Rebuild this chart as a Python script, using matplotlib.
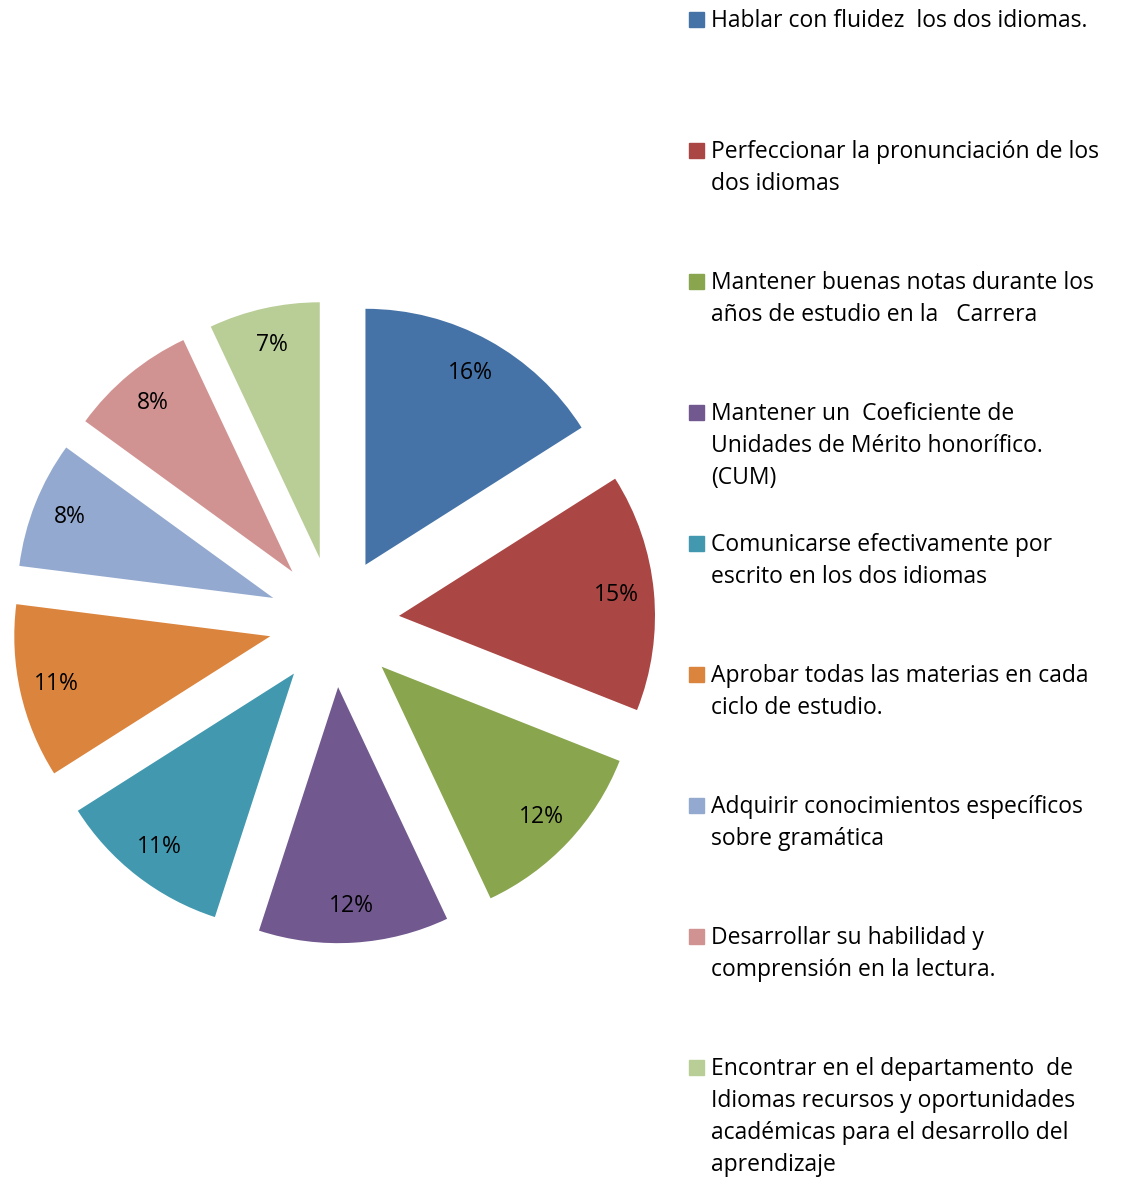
import matplotlib.pyplot as plt

# Data
categories = [
    "Hablar con fluidez  los dos idiomas.",
    "Perfeccionar la pronunciación de los\ndos idiomas",
    "Mantener buenas notas durante los\naños de estudio en la   Carrera",
    "Mantener un  Coeficiente de\nUnidades de Mérito honorífico.\n(CUM)",
    "Comunicarse efectivamente por\nescrito en los dos idiomas",
    "Aprobar todas las materias en cada\nciclo de estudio.",
    "Adquirir conocimientos específicos\nsobre gramática",
    "Desarrollar su habilidad y\ncomprensión en la lectura.",
    "Encontrar en el departamento  de\nIdiomas recursos y oportunidades\nacadémicas para el desarrollo del\naprendizaje",
]
values = [16, 15, 12, 12, 11, 11, 8, 8, 7]
colors = ["#4572A7", "#AA4643", "#89A54E", "#71588F", "#4198AF",
          "#DB843D", "#93A9CF", "#D19392", "#B9CD96"]

W, H = 1122, 1181
plt.rcParams['font.family'] = ['Open Sans', 'DejaVu Sans']

fig = plt.figure(figsize=(W / 100, H / 100), dpi=100)
ax = fig.add_axes([0, 0, 1, 1])

# pie geometry (pixels)
cx, cy, r = 334, 622, 256
ax.pie(values, colors=colors, startangle=90, counterclock=False,
       explode=[0.255] * len(values), radius=1,
       autopct='%1.0f%%', pctdistance=0.855,
       wedgeprops=dict(linewidth=0),
       textprops=dict(fontsize=16.5, color='black'))
ax.set_xlim((0 - cx) / r, (W - cx) / r)
ax.set_ylim(-(H - cy) / r, cy / r)
ax.set_aspect('equal')
ax.axis('off')

# legend drawn by hand, Excel-style fixed spacing
for i, (lab, col) in enumerate(zip(categories, colors)):
    base = 27 + 131 * i
    fig.patches.append(plt.Rectangle((689 / W, 1 - base / H), 15 / W, 15 / H,
                                     transform=fig.transFigure,
                                     color=col, figure=fig))
    for j, line in enumerate(lab.split("\n")):
        fig.text(711 / W, 1 - (base + 32 * j) / H, line,
                 fontsize=16.5, va='baseline', ha='left')

fig.savefig("out.png", dpi=100)
